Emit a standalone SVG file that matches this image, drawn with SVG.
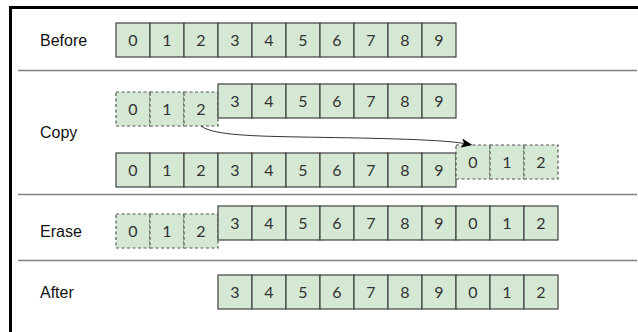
<svg xmlns="http://www.w3.org/2000/svg" width="638" height="332" viewBox="0 0 638 332">
  <style>
    .cell { fill: #d5e8d4; stroke: #404040; stroke-width: 1.2; }
    .dash { fill: #d5e8d4; stroke: #555555; stroke-width: 1.2; stroke-dasharray: 3 2.5; }
    .num { font-family: Lato, "Liberation Sans", sans-serif; font-size: 16px; fill: #333333; text-anchor: middle; }
    .lbl { font-family: "Liberation Sans", Arial, sans-serif; font-size: 16px; fill: #111111; }
    .sep { stroke: #808080; stroke-width: 1.5; }
    .frame { stroke: #000000; stroke-width: 3; fill: none; }
    .edge { fill: none; stroke: #333333; stroke-width: 1; }
  </style>
  <defs>
    <marker id="arrow" viewBox="0 -5 12 10" markerWidth="12" markerHeight="10" refX="2.5" refY="0" orient="auto" markerUnits="userSpaceOnUse">
      <path d="M0,-4.5 L11,0 L0,4.5 L2.5,0 Z" fill="#000000"/>
    </marker>
  </defs>
  <rect width="638" height="332" fill="#ffffff"/>
  <g id="frame">
    <line class="frame" x1="9" y1="7.5" x2="638" y2="7.5"/>
    <line class="frame" x1="10.5" y1="6" x2="10.5" y2="332"/>
  </g>
  <g id="separators">
    <line class="sep" x1="18" y1="70.5" x2="637" y2="70.5"/>
    <line class="sep" x1="18" y1="194.5" x2="637" y2="194.5"/>
    <line class="sep" x1="18" y1="260.5" x2="637" y2="260.5"/>
  </g>
  <g id="labels">
    <text class="lbl" x="40" y="46">Before</text>
    <text class="lbl" x="40" y="138">Copy</text>
    <text class="lbl" x="40" y="237">Erase</text>
    <text class="lbl" x="40" y="298">After</text>
  </g>

  <g id="before-array">
    <rect class="cell" x="116" y="23" width="34" height="34"/><text class="num" x="133" y="46">0</text>
    <rect class="cell" x="150" y="23" width="34" height="34"/><text class="num" x="167" y="46">1</text>
    <rect class="cell" x="184" y="23" width="34" height="34"/><text class="num" x="201" y="46">2</text>
    <rect class="cell" x="218" y="23" width="34" height="34"/><text class="num" x="235" y="46">3</text>
    <rect class="cell" x="252" y="23" width="34" height="34"/><text class="num" x="269" y="46">4</text>
    <rect class="cell" x="286" y="23" width="34" height="34"/><text class="num" x="303" y="46">5</text>
    <rect class="cell" x="320" y="23" width="34" height="34"/><text class="num" x="337" y="46">6</text>
    <rect class="cell" x="354" y="23" width="34" height="34"/><text class="num" x="371" y="46">7</text>
    <rect class="cell" x="388" y="23" width="34" height="34"/><text class="num" x="405" y="46">8</text>
    <rect class="cell" x="422" y="23" width="34" height="34"/><text class="num" x="439" y="46">9</text>
  </g>

  <g id="copy-source-dashed">
    <rect class="dash" x="116" y="92" width="34" height="34"/><text class="num" x="133" y="115">0</text>
    <rect class="dash" x="150" y="92" width="34" height="34"/><text class="num" x="167" y="115">1</text>
    <rect class="dash" x="184" y="92" width="34" height="34"/><text class="num" x="201" y="115">2</text>
  </g>
  <g id="copy-top-array">
    <rect class="cell" x="218" y="84" width="34" height="34"/><text class="num" x="235" y="107">3</text>
    <rect class="cell" x="252" y="84" width="34" height="34"/><text class="num" x="269" y="107">4</text>
    <rect class="cell" x="286" y="84" width="34" height="34"/><text class="num" x="303" y="107">5</text>
    <rect class="cell" x="320" y="84" width="34" height="34"/><text class="num" x="337" y="107">6</text>
    <rect class="cell" x="354" y="84" width="34" height="34"/><text class="num" x="371" y="107">7</text>
    <rect class="cell" x="388" y="84" width="34" height="34"/><text class="num" x="405" y="107">8</text>
    <rect class="cell" x="422" y="84" width="34" height="34"/><text class="num" x="439" y="107">9</text>
  </g>

  <g id="copy-bottom-array">
    <rect class="cell" x="116" y="153" width="34" height="34"/><text class="num" x="133" y="176">0</text>
    <rect class="cell" x="150" y="153" width="34" height="34"/><text class="num" x="167" y="176">1</text>
    <rect class="cell" x="184" y="153" width="34" height="34"/><text class="num" x="201" y="176">2</text>
    <rect class="cell" x="218" y="153" width="34" height="34"/><text class="num" x="235" y="176">3</text>
    <rect class="cell" x="252" y="153" width="34" height="34"/><text class="num" x="269" y="176">4</text>
    <rect class="cell" x="286" y="153" width="34" height="34"/><text class="num" x="303" y="176">5</text>
    <rect class="cell" x="320" y="153" width="34" height="34"/><text class="num" x="337" y="176">6</text>
    <rect class="cell" x="354" y="153" width="34" height="34"/><text class="num" x="371" y="176">7</text>
    <rect class="cell" x="388" y="153" width="34" height="34"/><text class="num" x="405" y="176">8</text>
    <rect class="cell" x="422" y="153" width="34" height="34"/><text class="num" x="439" y="176">9</text>
  </g>
  <g id="copy-target-dashed">
    <rect class="dash" x="456" y="145" width="34" height="34"/><text class="num" x="473" y="168">0</text>
    <rect class="dash" x="490" y="145" width="34" height="34"/><text class="num" x="507" y="168">1</text>
    <rect class="dash" x="524" y="145" width="34" height="34"/><text class="num" x="541" y="168">2</text>
  </g>

  <g id="erase-dashed">
    <rect class="dash" x="116" y="214" width="34" height="34"/><text class="num" x="133" y="237">0</text>
    <rect class="dash" x="150" y="214" width="34" height="34"/><text class="num" x="167" y="237">1</text>
    <rect class="dash" x="184" y="214" width="34" height="34"/><text class="num" x="201" y="237">2</text>
  </g>
  <g id="erase-array">
    <rect class="cell" x="218" y="206" width="34" height="34"/><text class="num" x="235" y="229">3</text>
    <rect class="cell" x="252" y="206" width="34" height="34"/><text class="num" x="269" y="229">4</text>
    <rect class="cell" x="286" y="206" width="34" height="34"/><text class="num" x="303" y="229">5</text>
    <rect class="cell" x="320" y="206" width="34" height="34"/><text class="num" x="337" y="229">6</text>
    <rect class="cell" x="354" y="206" width="34" height="34"/><text class="num" x="371" y="229">7</text>
    <rect class="cell" x="388" y="206" width="34" height="34"/><text class="num" x="405" y="229">8</text>
    <rect class="cell" x="422" y="206" width="34" height="34"/><text class="num" x="439" y="229">9</text>
    <rect class="cell" x="456" y="206" width="34" height="34"/><text class="num" x="473" y="229">0</text>
    <rect class="cell" x="490" y="206" width="34" height="34"/><text class="num" x="507" y="229">1</text>
    <rect class="cell" x="524" y="206" width="34" height="34"/><text class="num" x="541" y="229">2</text>
  </g>

  <g id="after-array">
    <rect class="cell" x="218" y="275" width="34" height="34"/><text class="num" x="235" y="298">3</text>
    <rect class="cell" x="252" y="275" width="34" height="34"/><text class="num" x="269" y="298">4</text>
    <rect class="cell" x="286" y="275" width="34" height="34"/><text class="num" x="303" y="298">5</text>
    <rect class="cell" x="320" y="275" width="34" height="34"/><text class="num" x="337" y="298">6</text>
    <rect class="cell" x="354" y="275" width="34" height="34"/><text class="num" x="371" y="298">7</text>
    <rect class="cell" x="388" y="275" width="34" height="34"/><text class="num" x="405" y="298">8</text>
    <rect class="cell" x="422" y="275" width="34" height="34"/><text class="num" x="439" y="298">9</text>
    <rect class="cell" x="456" y="275" width="34" height="34"/><text class="num" x="473" y="298">0</text>
    <rect class="cell" x="490" y="275" width="34" height="34"/><text class="num" x="507" y="298">1</text>
    <rect class="cell" x="524" y="275" width="34" height="34"/><text class="num" x="541" y="298">2</text>
  </g>

  <g id="connectors">
    <path class="edge" d="M 201 126 C 212 134 240 136 300 137 C 360 138 440 139 464 143.5" marker-end="url(#arrow)"/>
  </g>
</svg>
